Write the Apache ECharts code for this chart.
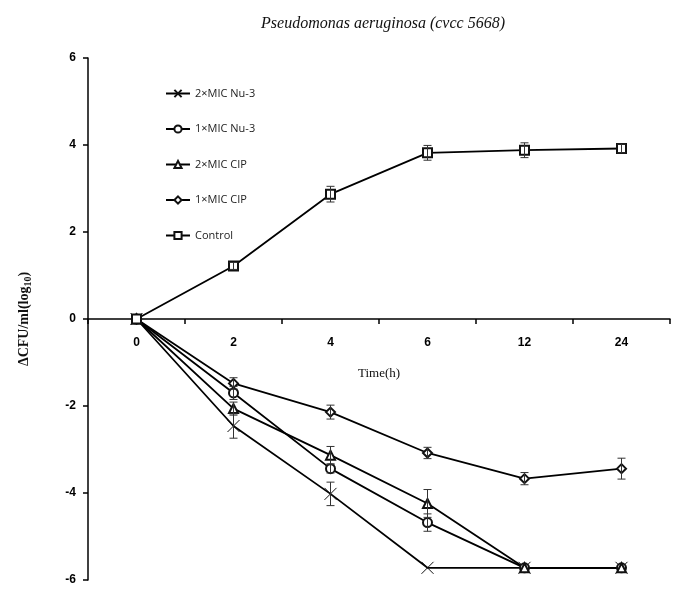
<!DOCTYPE html>
<html>
<head>
<meta charset="utf-8">
<script src="https://cdn.jsdelivr.net/npm/echarts@6/dist/echarts.min.js"></script>
<style>html,body{margin:0;padding:0;background:#fff;}#c{width:685px;height:597px;}</style>
</head>
<body>
<div id="c"></div>
<script>
var categories = ['0', '2', '4', '6', '12', '24'];
var yTicks = [-6, -4, -2, 0, 2, 4, 6];
var seriesNames = ['2×MIC Nu-3', '1×MIC Nu-3', '2×MIC CIP', '1×MIC CIP', 'Control'];
var nu3x2 = [0, -2.46, -4.02, -5.72, -5.72, -5.72];
var nu3x2Err = [0, 0.28, 0.27, 0, 0, 0];
var nu3x1 = [0, -1.70, -3.44, -4.68, -5.72, -5.72];
var nu3x1Err = [0, 0.15, 0.1, 0.2, 0, 0];
var cipx2 = [0, -2.06, -3.13, -4.24, -5.72, -5.72];
var cipx2Err = [0, 0.15, 0.2, 0.32, 0, 0];
var cipx1 = [0, -1.48, -2.14, -3.08, -3.67, -3.44];
var cipx1Err = [0, 0.13, 0.16, 0.13, 0.14, 0.24];
var control = [0, 1.22, 2.87, 3.82, 3.88, 3.92];
var controlErr = [0, 0.08, 0.18, 0.17, 0.17, 0.1];

var allVals = [nu3x2, nu3x1, cipx2, cipx1, control];
var allErrs = [nu3x2Err, nu3x1Err, cipx2Err, cipx1Err, controlErr];
var symbols = ['path://M0,0L10,10M10,0L0,10', 'emptyCircle', 'emptyTriangle', 'emptyDiamond', 'emptyRect'];
var symbolSizes = [12, 9, 9, 9, 9];

var chart = echarts.init(document.getElementById('c'));
var series = [];
allVals.forEach(function (vals, i) {
  var errData = [];
  vals.forEach(function (v, j) {
    if (allErrs[i][j] > 0) errData.push([j, v - allErrs[i][j], v + allErrs[i][j]]);
  });
  series.push({
    type: 'custom',
    name: seriesNames[i] + ' err',
    data: errData,
    z: 4,
    silent: true,
    renderItem: function (params, api) {
      var x = api.value(0);
      var lo = api.coord([x, api.value(1)]);
      var hi = api.coord([x, api.value(2)]);
      var w = 4;
      var st = { stroke: '#333', lineWidth: 1 };
      return {
        type: 'group',
        children: [
          { type: 'line', shape: { x1: lo[0], y1: lo[1], x2: hi[0], y2: hi[1] }, style: st },
          { type: 'line', shape: { x1: lo[0] - w, y1: lo[1], x2: lo[0] + w, y2: lo[1] }, style: st },
          { type: 'line', shape: { x1: hi[0] - w, y1: hi[1], x2: hi[0] + w, y2: hi[1] }, style: st }
        ]
      };
    }
  });
});
allVals.forEach(function (vals, i) {
  series.push({
    type: 'line',
    name: seriesNames[i],
    data: vals,
    z: 3,
    symbol: symbols[i],
    symbolSize: symbolSizes[i],
    showAllSymbol: true,
    lineStyle: { color: '#000', width: 1.8 },
    itemStyle: { color: '#111', borderColor: '#111', borderWidth: 1 },
    emphasis: { disabled: true },
    animation: false
  });
});

var option = {
  animation: false,
  backgroundColor: '#fff',
  title: {
    text: 'Pseudomonas aeruginosa (cvcc 5668)',
    left: 378, top: 11, textAlign: 'center',
    textStyle: { fontFamily: 'Liberation Serif', fontStyle: 'italic', fontWeight: 'normal', fontSize: 16, color: '#111' }
  },
  legend: {
    data: seriesNames,
    orient: 'vertical',
    left: 160, top: 83,
    itemGap: 24.5,
    itemWidth: 24, itemHeight: 9,
    textStyle: { fontFamily: 'Open Sans', fontSize: 11, color: '#222' }
  },
  grid: { left: 88, right: 15, top: 58, bottom: 17, outerBoundsMode: 'none', containLabel: false },
  xAxis: {
    type: 'category',
    data: categories,
    boundaryGap: true,
    position: 'bottom',
    offset: 0,
    axisLine: { onZero: false, lineStyle: { color: '#000', width: 1.5 } },
    axisTick: { show: true, length: 5, alignWithLabel: false, lineStyle: { color: '#000', width: 1.5 } },
    axisLabel: { margin: 18, fontFamily: 'Liberation Sans', fontWeight: 'bold', fontSize: 12, color: '#000' },
    name: 'Time(h)', nameLocation: 'middle', nameGap: 48,
    nameTextStyle: { fontFamily: 'Liberation Serif', fontSize: 13, color: '#111' },
    splitLine: { show: false }
  },
  yAxis: {
    type: 'value',
    min: yTicks[0], max: yTicks[yTicks.length - 1], interval: 2,
    axisLine: { show: true, onZero: false, lineStyle: { color: '#000', width: 1.5 } },
    axisTick: { show: true, length: 5, lineStyle: { color: '#000', width: 1.5 } },
    axisLabel: { margin: 12, fontFamily: 'Liberation Sans', fontWeight: 'bold', fontSize: 12, color: '#000' },
    splitLine: { show: false },
    name: 'ΔCFU/ml(log{s|10})', nameLocation: 'middle', nameRotate: 90, nameGap: 55,
    nameTextStyle: {
      fontFamily: 'Liberation Serif', fontWeight: 'bold', fontSize: 14, color: '#111',
      rich: { s: { fontFamily: 'Liberation Serif', fontWeight: 'bold', fontSize: 10, color: '#111', padding: [8, 0, 0, 0] } }
    }
  },
  series: series
};
chart.setOption(option);
// place the x axis on the y = 0 line using the library's own scale
var zeroY = chart.convertToPixel({ yAxisIndex: 0 }, 0);
var bottomY = chart.convertToPixel({ yAxisIndex: 0 }, yTicks[0]);
chart.setOption({ xAxis: { offset: zeroY - bottomY } });
</script>
</body>
</html>
